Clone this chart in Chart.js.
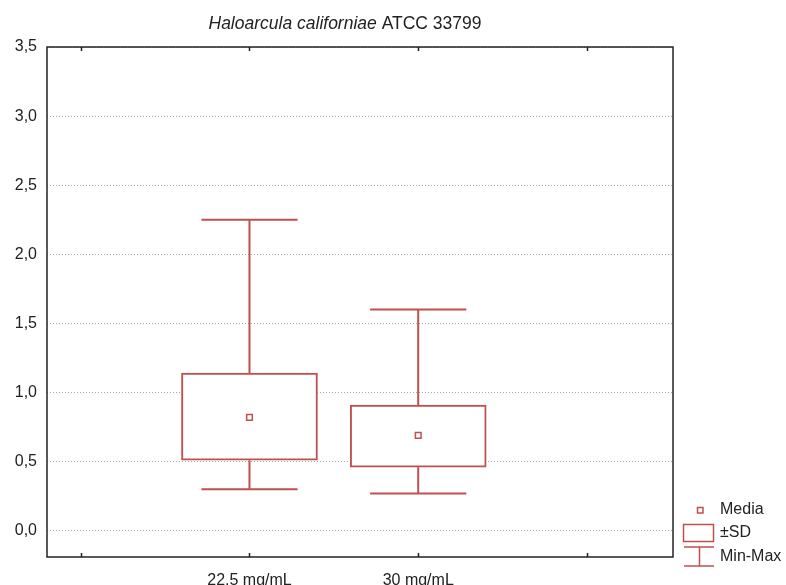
<!DOCTYPE html>
<html>
<head>
<meta charset="utf-8">
<script src="https://cdn.jsdelivr.net/npm/chart.js@4.4.1/dist/chart.umd.min.js"></script>
<style>
  html, body { margin: 0; background: #fff; }
  #wrap { width: 786px; height: 585px; }
</style>
</head>
<body>
<div id="wrap"><canvas id="c" width="786" height="585"></canvas></div>
<script>
/* ===== DATA ===== */
const CATEGORIES = ['', '22,5 mg/mL', '30 mg/mL', ''];   // x tick labels at 0..3
const GROUP_POS  = [1, 2];                                 // where the two groups sit
const MEANS      = [0.82, 0.69];
const SD_LOW     = [0.51, 0.46];
const SD_HIGH    = [1.14, 0.91];
const MINS       = [0.30, 0.27];
const MAXS       = [2.25, 1.60];
const Y_TICKS    = [0, 0.5, 1, 1.5, 2, 2.5, 3, 3.5];

/* ===== STYLE ===== */
const RED  = '#c0504d';
const INK  = '#222';
const FONT = 'Liberation Sans, Arial, sans-serif';
const CAP  = 0.285;   // half width of whisker caps, in x units

const gap = {x: null, y: null};
const whiskers = GROUP_POS.flatMap((x, i) => [
  {x, y: SD_HIGH[i]}, {x, y: MAXS[i]}, gap,
  {x: x - CAP, y: MAXS[i]}, {x: x + CAP, y: MAXS[i]}, gap,
  {x, y: SD_LOW[i]}, {x, y: MINS[i]}, gap,
  {x: x - CAP, y: MINS[i]}, {x: x + CAP, y: MINS[i]}, gap
]);

/* ===== PLUGINS ===== */
const titlePlugin = {
  id: 'title2',
  afterDraw(chart) {
    const ctx = chart.ctx;
    const a = 'Haloarcula californiae', b = ' ATCC 33799';
    ctx.save();
    ctx.fillStyle = INK;
    ctx.textBaseline = 'middle';
    ctx.font = 'italic 17.5px ' + FONT;
    const wa = ctx.measureText(a).width;
    ctx.font = '17.5px ' + FONT;
    const wb = ctx.measureText(b).width;
    const x0 = 345 - (wa + wb) / 2;
    ctx.font = 'italic 17.5px ' + FONT;
    ctx.fillText(a, x0, 24);
    ctx.font = '17.5px ' + FONT;
    ctx.fillText(b, x0 + wa, 24);
    ctx.restore();
  }
};

const framePlugin = {
  id: 'frame',
  afterDraw(chart) {
    const {ctx, chartArea: ca, scales} = chart;
    ctx.save();
    ctx.strokeStyle = INK;
    ctx.lineWidth = 1.5;
    ctx.strokeRect(ca.left, ca.top, ca.right - ca.left, ca.bottom - ca.top);
    ctx.beginPath();
    CATEGORIES.forEach((_, i) => {
      const px = Math.round(scales.x.getPixelForValue(i)) + 0.5;
      ctx.moveTo(px, ca.top); ctx.lineTo(px, ca.top + 4);
      ctx.moveTo(px, ca.bottom); ctx.lineTo(px, ca.bottom - 4);
    });
    ctx.stroke();
    ctx.restore();
  }
};

const legendPlugin = {
  id: 'legend2',
  afterDraw(chart) {
    const ctx = chart.ctx;
    ctx.save();
    ctx.strokeStyle = RED;
    ctx.lineWidth = 1.5;
    // Media
    ctx.strokeRect(697.5, 507.5, 5.5, 5.5);
    // +-SD box
    ctx.strokeRect(683.5, 524.5, 30, 17);
    // Min-Max
    ctx.beginPath();
    ctx.moveTo(684, 547); ctx.lineTo(714, 547);
    ctx.moveTo(699.5, 547); ctx.lineTo(699.5, 566);
    ctx.moveTo(684, 566); ctx.lineTo(714, 566);
    ctx.stroke();
    ctx.fillStyle = INK;
    ctx.font = '16px ' + FONT;
    ctx.textBaseline = 'middle';
    ctx.fillText('Media', 720, 510);
    ctx.fillText('\u00B1SD', 720, 533);
    ctx.fillText('Min-Max', 720, 557);
    ctx.restore();
  }
};

/* ===== CHART ===== */
new Chart(document.getElementById('c'), {
  type: 'bar',
  data: {
    datasets: [
      {
        type: 'scatter',
        label: 'Media',
        data: GROUP_POS.map((x, i) => ({x, y: MEANS[i]})),
        pointStyle: 'rect',
        pointRadius: 4,
        borderColor: RED,
        backgroundColor: '#fff',
        borderWidth: 1.5,
        order: 1
      },
      {
        type: 'bar',
        label: '\u00B1SD',
        data: GROUP_POS.map((x, i) => ({x, y: [SD_LOW[i], SD_HIGH[i]]})),
        backgroundColor: '#fff',
        borderColor: RED,
        borderWidth: 2,
        borderSkipped: false,
        barThickness: 136,
        order: 2
      },
      {
        type: 'line',
        label: 'Min-Max',
        data: whiskers,
        borderColor: RED,
        borderWidth: 2,
        pointRadius: 0,
        spanGaps: false,
        tension: 0,
        order: 3
      }
    ]
  },
  options: {
    responsive: false,
    animation: false,
    layout: {padding: {left: 0, top: 47, right: 113, bottom: 0}},
    plugins: {legend: {display: false}, tooltip: {enabled: false}},
    scales: {
      x: {
        type: 'linear',
        offset: false,
        min: -0.2,
        max: 3.51,
        afterBuildTicks: s => { s.ticks = CATEGORIES.map((_, i) => ({value: i})); },
        afterFit: s => { s.height = 28; },
        grid: {display: false, offset: false},
        border: {display: false},
        ticks: {
          callback: v => CATEGORIES[v] ?? '',
          autoSkip: false,
          maxRotation: 0,
          padding: 6,
          color: INK,
          font: {family: FONT, size: 16}
        }
      },
      y: {
        type: 'linear',
        min: -0.19,
        max: 3.5,
        afterBuildTicks: s => { s.ticks = Y_TICKS.map(v => ({value: v})); },
        afterFit: s => { s.width = 47; },
        grid: {color: '#a8a8a8', lineWidth: 1, drawTicks: false},
        border: {display: false, dash: [1, 2]},
        ticks: {
          callback: v => v.toFixed(1).replace('.', ','),
          padding: 10,
          color: INK,
          font: {family: FONT, size: 16}
        }
      }
    }
  },
  plugins: [titlePlugin, framePlugin, legendPlugin]
});
</script>
</body>
</html>
